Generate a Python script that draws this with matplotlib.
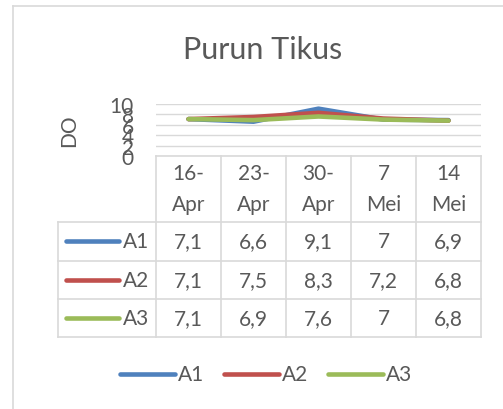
import matplotlib
matplotlib.use("Agg")
import matplotlib.pyplot as plt
from matplotlib.lines import Line2D

plt.rcParams["font.family"] = ["Lato", "DejaVu Sans"]

# data
dates = ["16-\nApr", "23-\nApr", "30-\nApr", "7\nMei", "14\nMei"]
series = ["A1", "A2", "A3"]
a1 = [7.1, 6.6, 9.1, 7.0, 6.9]
a2 = [7.1, 7.5, 8.3, 7.2, 6.8]
a3 = [7.1, 6.9, 7.6, 7.0, 6.8]
y_ticks = [0, 2, 4, 6, 8, 10]

values = [a1, a2, a3]
colors = ["#4F81BD", "#C0504D", "#9BBB59"]
TXT = "#595959"
GRID = "#D9D9D9"
FS = 15

W, H = 503, 410
fig = plt.figure(figsize=(W / 100, H / 100), dpi=100)


def fx(x):
    return x / W


def fy(y):
    return 1 - y / H


def hline(x0, x1, y, **kw):
    fig.add_artist(Line2D([fx(x0), fx(x1)], [fy(y), fy(y)], transform=fig.transFigure, **kw))


def vline(x, y0, y1, **kw):
    fig.add_artist(Line2D([fx(x), fx(x)], [fy(y0), fy(y1)], transform=fig.transFigure, **kw))


# outer chart border (only left/top visible)
hline(13, 503, 6.5, color=GRID, lw=1.2)
vline(13, 6.5, 410, color=GRID, lw=1.2)

fig.text(fx(263), fy(50), "Purun Tikus", fontsize=22, color=TXT, ha="center", va="center")

# plot area
x0, x1 = 156, 481
ytop, ybot = 105, 157
ax = fig.add_axes([fx(x0), fy(ybot), (x1 - x0) / W, (ybot - ytop) / H])
ax.set_xlim(-0.5, len(dates) - 0.5)
ax.set_ylim(0, 10)
ax.set_yticks(y_ticks)
ax.set_xticks([])
ax.tick_params(axis="y", length=0, labelsize=FS, labelcolor=TXT, pad=16)
for s in ax.spines.values():
    s.set_visible(False)
ax.grid(axis="y", color=GRID, lw=1)
ax.set_axisbelow(True)
for vals, c in zip(values, colors):
    ax.plot(range(len(dates)), vals, color=c, lw=3.3, solid_capstyle="round",
            solid_joinstyle="round")
ax.set_ylabel("DO", fontsize=FS, color=TXT, labelpad=22)

# data table
col_edges = [156, 221, 286, 351, 416, 481]
row_edges = [157, 223, 261.5, 300, 338]
lab_x0 = 58
lw_t = 1.2
hline(col_edges[0], col_edges[-1], row_edges[0], color=GRID, lw=lw_t)
for ry in row_edges[1:]:
    hline(lab_x0, col_edges[-1], ry, color=GRID, lw=lw_t)
for cx in col_edges:
    vline(cx, row_edges[0], row_edges[-1], color=GRID, lw=lw_t)
vline(lab_x0, row_edges[1], row_edges[-1], color=GRID, lw=lw_t)

for i, d in enumerate(dates):
    cx = (col_edges[i] + col_edges[i + 1]) / 2
    top, bot = d.split("\n")
    fig.text(fx(cx), fy(174), top, fontsize=FS, color=TXT, ha="center", va="center")
    fig.text(fx(cx), fy(205), bot, fontsize=FS, color=TXT, ha="center", va="center")

for r, (name, vals, c) in enumerate(zip(series, values, colors)):
    cy = (row_edges[r + 1] + row_edges[r + 2]) / 2
    fig.add_artist(Line2D([fx(66), fx(119)], [fy(cy), fy(cy)], transform=fig.transFigure,
                          color=c, lw=3.3, solid_capstyle="round"))
    fig.text(fx(123), fy(cy), name, fontsize=FS, color=TXT, ha="left", va="center")
    for i, v in enumerate(vals):
        cx = (col_edges[i] + col_edges[i + 1]) / 2
        fig.text(fx(cx), fy(cy), f"{v:g}".replace(".", ","), fontsize=FS, color=TXT,
                 ha="center", va="center")

# bottom legend
leg_y = 375
for j, (name, c) in enumerate(zip(series, colors)):
    lx = 120 + j * 104
    fig.add_artist(Line2D([fx(lx), fx(lx + 55)], [fy(leg_y), fy(leg_y)], transform=fig.transFigure,
                          color=c, lw=3.3, solid_capstyle="round"))
    fig.text(fx(lx + 58), fy(leg_y), name, fontsize=FS, color=TXT, ha="left", va="center")

fig.savefig("out.png", dpi=100)
